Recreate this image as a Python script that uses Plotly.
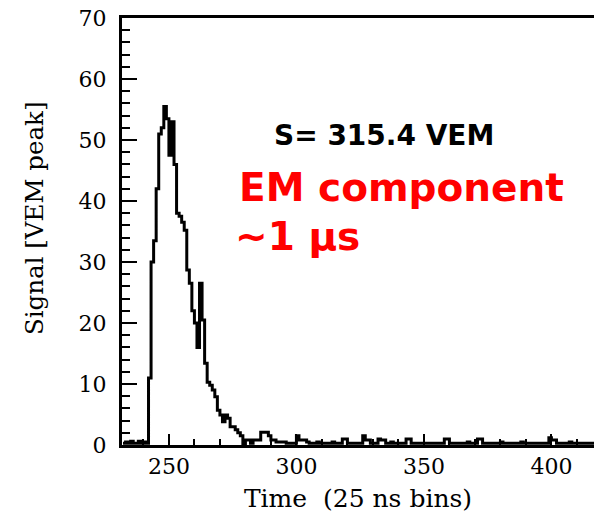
import plotly.graph_objects as go

# Time bins (25 ns) and signal in VEM peak units
bin_start = 232
signal = [
    0.3, 0.5, 0.3, 0.6, 0.3, 0.3, 0.6, 0.3, 0.5, 0.3,          # 232-241
    11.0, 30.0, 33.5, 42.0, 51.0, 52.0, 55.5, 53.5, 47.5, 53.0,  # 242-251
    46.0, 38.0, 37.5, 36.5, 35.2, 28.7, 26.5, 22.0, 20.0, 16.0,  # 252-261
    26.5, 20.5, 13.4, 10.3, 9.8, 9.0, 7.9, 5.7, 4.9, 3.8,        # 262-271
    4.9, 4.4, 3.0, 3.0, 2.5, 2.0, 1.5, 0.2, 0.8, 0.8,            # 272-281
    0.3, 0.8, 0.8, 0.8, 2.1, 2.1, 2.1, 1.5, 0.8, 0.8,            # 282-291
    0.5, 0.5, 0.5, 0.5, 0.3, 0.3, 0.3, 0.3, 1.5, 0.8,            # 292-301
    0.8, 0.8, 0.5, 0.3, 0.3, 0.3, 0.5, 0.3, 0.3, 0.3,            # 302-311
    0.3, 0.3, 0.5, 0.3, 0.3, 0.3, 1.0, 1.0, 0.3, 0.3,            # 312-321
    0.3, 0.3, 0.3, 0.3, 1.5, 0.8, 0.8, 0.3, 0.3, 0.3,            # 322-331
    1.0, 0.8, 0.8, 0.3, 0.3, 0.5, 0.3, 0.3, 0.3, 0.3,            # 332-341
    0.3, 1.0, 1.0, 0.3, 0.3, 0.3, 0.3, 0.3, 0.3, 0.3,            # 342-351
    0.3, 0.3, 0.3, 0.3, 0.3, 0.3, 1.0, 1.0, 0.3, 0.3,            # 352-361
    0.3, 0.3, 0.3, 0.3, 0.3, 0.5, 0.3, 0.3, 0.3, 1.0,            # 362-371
    1.0, 0.3, 0.3, 0.3, 0.3, 0.3, 0.3, 0.3, 0.5, 0.3,            # 372-381
    0.3, 0.3, 0.3, 0.3, 0.3, 0.3, 0.5, 0.3, 0.3, 0.3,            # 382-391
    0.3, 0.3, 0.3, 0.3, 0.3, 0.3, 0.3, 1.2, 0.8, 0.8,            # 392-401
    0.3, 0.3, 0.3, 0.3, 0.3, 0.5, 0.3, 0.3, 0.3, 0.3,            # 402-411
    0.3, 0.3, 0.3, 0.3, 0.3, 0.3,                                # 412-417
]
time_bins = list(range(bin_start, bin_start + len(signal)))

x_ticks = [250, 300, 350, 400]
y_ticks = [0, 10, 20, 30, 40, 50, 60, 70]

label_total = "S= 315.4 VEM"
label_em = "EM component"
label_time = "~1 μs"
y_title = "Signal [VEM peak]"

# step histogram: extend last bin edge
xs = time_bins + [time_bins[-1] + 1]
ys = signal + [signal[-1]]

fig = go.Figure()
fig.add_trace(go.Scatter(
    x=xs, y=ys, mode="lines",
    line=dict(color="black", width=3, shape="hv"),
    hoverinfo="skip", showlegend=False,
))

serif = "DejaVu Serif"
sans = "DejaVu Sans"

fig.update_layout(
    width=594, height=518,
    margin=dict(l=122, r=0, t=18, b=73),
    paper_bgcolor="white", plot_bgcolor="white",
    showlegend=False,
    xaxis=dict(
        range=[231.6, 416.7],
        showline=True, linecolor="black", linewidth=3, mirror=True,
        ticks="inside", ticklen=11, tickwidth=2, tickcolor="black",
        tickvals=x_ticks, ticktext=[str(v) for v in x_ticks],
        minor=dict(dtick=10, tick0=0, ticks="inside", ticklen=6, tickwidth=1.5, tickcolor="black"),
        showgrid=False, zeroline=False,
        tickfont=dict(family=serif, size=22, color="black"),
        title=dict(text="Time \u00a0(25 ns bins)", font=dict(family=serif, size=25, color="black"), standoff=12),
    ),
    yaxis=dict(
        range=[0, 70],
        showline=True, linecolor="black", linewidth=3,
        ticks="inside", ticklen=15, tickwidth=2, tickcolor="black",
        tickvals=y_ticks, ticktext=[str(v) for v in y_ticks],
        minor=dict(dtick=2, tick0=0, ticks="inside", ticklen=8, tickwidth=1.5, tickcolor="black"),
        showgrid=False, zeroline=False,
        tickfont=dict(family=serif, size=22, color="black"),
        ticklabelstandoff=8,
    ),
    annotations=[
        dict(xref="paper", yref="paper", x=(35 - 122) / 472, y=(445 - 218) / 427,
             xanchor="center", yanchor="middle", showarrow=False, textangle=-90,
             text=y_title, font=dict(family=serif, size=24.5, color="black")),
        dict(xref="paper", yref="paper", x=(272 - 122) / 472, y=(445 - 135) / 427,
             xanchor="left", yanchor="middle", showarrow=False,
             text="<b>" + label_total + "</b>", font=dict(family=sans, size=28, color="black")),
        dict(xref="paper", yref="paper", x=(237 - 122) / 472, y=(445 - 187) / 427,
             xanchor="left", yanchor="middle", showarrow=False,
             text="<b>" + label_em + "</b>", font=dict(family=sans, size=39, color="#ff0000")),
        dict(xref="paper", yref="paper", x=(233 - 122) / 472, y=(445 - 236) / 427,
             xanchor="left", yanchor="middle", showarrow=False,
             text="<b>" + label_time + "</b>", font=dict(family=sans, size=39, color="#ff0000")),
    ],
)

fig.write_html("out.html")
